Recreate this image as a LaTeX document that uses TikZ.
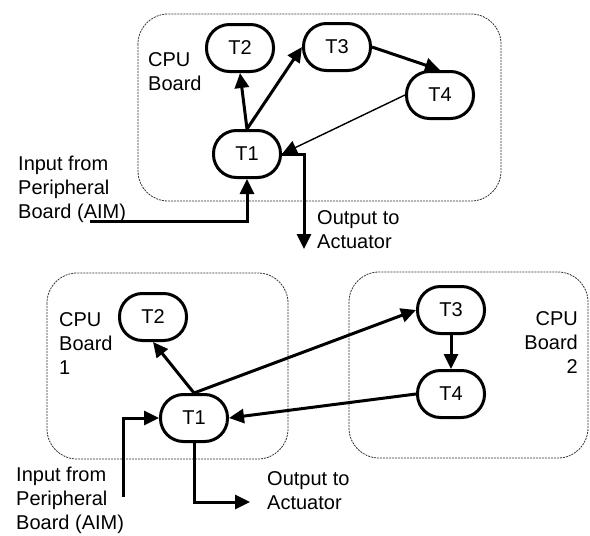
\documentclass[tikz,border=0pt]{standalone}
\usepackage{fontspec}
\setmainfont{Liberation Sans}
\usetikzlibrary{calc,positioning,arrows.meta}

\begin{document}
\begin{tikzpicture}[x=1pt,y=-1pt,
		font=\fontsize{20}{24}\selectfont,
		task/.style={draw,line width=3pt,rounded corners=23pt,minimum width=67pt,minimum height=47pt,inner sep=0pt},
		board/.style={draw=black!80,dash pattern=on 2pt off 1pt,line width=0.8pt,rounded corners=30pt},
		lab/.style={inner sep=0pt,anchor=north west,align=left},
		link/.style={line width=3pt,-{Triangle[length=15pt,width=14pt]}},
		thinlink/.style={line width=1.4pt,-{Triangle[length=15pt,width=14pt]}}]
		\useasboundingbox (0,0) rectangle (590,536);
		\draw[board] (138,14) rectangle (501,201);
		\draw[board] (47,273) rectangle (288,459);
		\draw[board] (349,272) rectangle (588,458);
		\node(1) [task] at (247,154) {T1};
		\node(2) [task] at (240,48) {T2};
		\node(3) [task] at (337,47) {T3};
		\node(4) [task] at (440,95) {T4};
		\node(5) [task] at (194,418) {T1};
		\node(6) [task] at (153,317) {T2};
		\node(7) [task] at (451,310) {T3};
		\node(8) [task] at (451,394) {T4};
		\coordinate(in1) at (90,221);
		\coordinate(out1) at (304,249);
		\coordinate(in2) at (123,497);
		\coordinate(out2) at (250,502);
		\node(9) [lab] at (148,52) {CPU\\Board};
		\node(10) [lab] at ($(in1)+(-72,-65)$) {Input from\\Peripheral\\Board (AIM)};
		\node(11) [lab] at ($(out1)+(13,-39)$) {Output to\\Actuator};
		\node(12) [lab] at (59,312) {CPU\\Board\\1};
		\node(13) [lab,anchor=north east,align=right] at (578,311) {CPU\\Board\\2};
		\node(14) [lab] at (16,467) {Input from\\Peripheral\\Board (AIM)};
		\node(15) [lab] at ($(out2)+(17,-31)$) {Output to\\Actuator};
		\path[link]
			(1.north) edge (2.south)
			(1.north) edge (3.west)
			(3.east) edge (4.north);
		\draw[thinlink] (4.west) -- (1.east);
		\draw[link] (in1) -| (1.south);
		\draw[link] (1.east) -| (out1);
		\path[link]
			(5.north) edge (6.south)
			(5.north) edge (7.west)
			(7.south) edge (8.north)
			(8.west) edge (5.east);
		\draw[link] (in2) |- (5.west);
		\draw[link] (5.south) |- (out2);
	\end{tikzpicture}
\end{document}
